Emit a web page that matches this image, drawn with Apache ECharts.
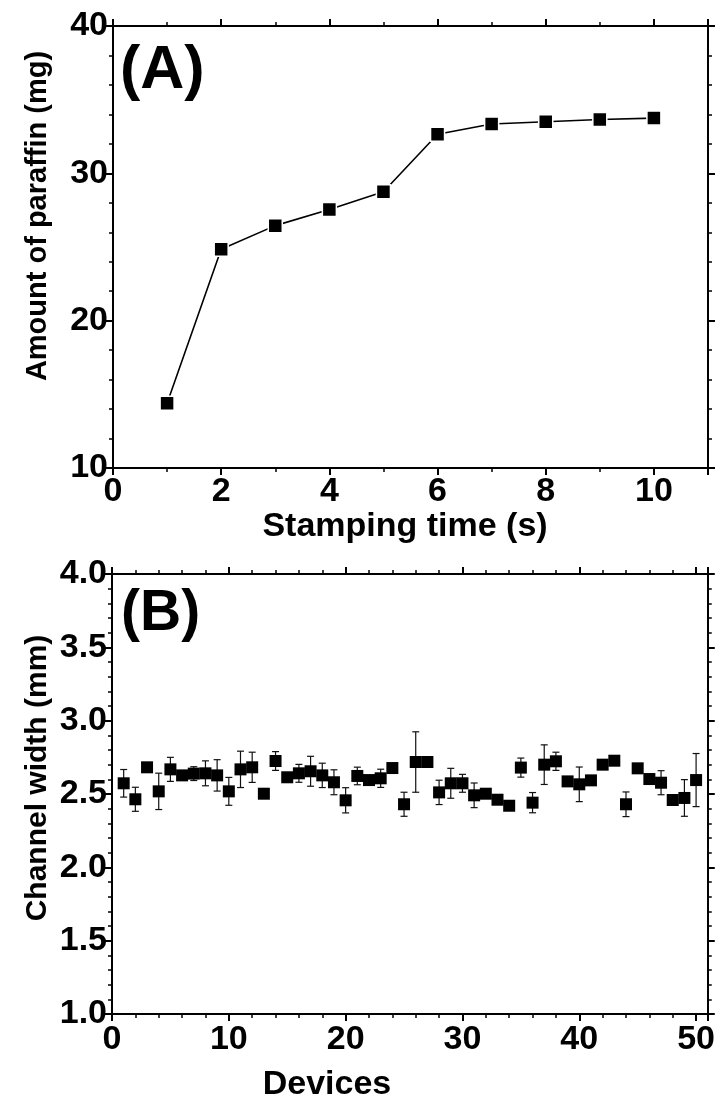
<!DOCTYPE html>
<html>
<head>
<meta charset="utf-8">
<script src="https://cdn.jsdelivr.net/npm/echarts@6/dist/echarts.min.js"></script>
<style>
html,body{margin:0;padding:0;background:#fff;}
#chart{width:718px;height:1108px;}
</style>
</head>
<body>
<div id="chart"></div>
<script>
// Panel A data
const stampingTime = [1, 2, 3, 4, 5, 6, 7, 8, 9, 10];
const paraffinMg = [14.4, 24.85, 26.45, 27.55, 28.75, 32.65, 33.35, 33.5, 33.65, 33.75];

// Panel B data
const devices = [1,2,3,4,5,6,7,8,9,10,11,12,13,14,15,16,17,18,19,20,21,22,23,24,25,26,27,28,29,30,31,32,33,34,35,36,37,38,39,40,41,42,43,44,45,46,47,48,49,50];
const channelWidth = [2.573,2.464,2.682,2.518,2.668,2.627,2.639,2.641,2.627,2.518,
                      2.668,2.682,2.502,2.725,2.614,2.641,2.655,2.627,2.580,2.457,
                      2.623,2.595,2.607,2.677,2.430,2.718,2.718,2.511,2.573,2.573,
                      2.491,2.502,2.461,2.420,2.680,2.441,2.700,2.723,2.586,2.566,
                      2.593,2.700,2.727,2.430,2.675,2.602,2.577,2.459,2.473,2.595];
const widthError = [0.094,0.082,0.02,0.124,0.082,0.02,0.047,0.085,0.107,0.095,
                    0.124,0.103,0.03,0.064,0.01,0.061,0.102,0.083,0.085,0.086,
                    0.060,0.02,0.062,0.02,0.082,0.206,0.02,0.083,0.102,0.061,
                    0.084,0.03,0.02,0.01,0.065,0.069,0.135,0.062,0.02,0.118,
                    0.015,0.02,0.01,0.084,0.01,0.03,0.082,0.01,0.125,0.181];

const FONT = 'Liberation Sans, Arial, Helvetica, sans-serif';
const chart = echarts.init(document.getElementById('chart'), null, {renderer: 'canvas'});

const lineStyle = {color: '#000', width: 2};
const labelStyle = {color: '#000', fontFamily: FONT, fontWeight: 'bold', fontSize: 34};

function xAxisPair(gridIndex, position, min, max, major, minor, showLabels, margin) {
  return [
    {
      type: 'value', gridIndex: gridIndex, position: position, min: min, max: max, interval: major,
      axisLine: {show: true, lineStyle: lineStyle, onZero: false},
      axisTick: {show: true, inside: false, length: 7, lineStyle: {color: '#000', width: 2}},
      axisLabel: {show: showLabels, margin: margin, ...labelStyle,
        formatter: function (v) { return (v % major === 0) ? String(v) : ''; }},
      splitLine: {show: false}
    },
    {
      type: 'value', gridIndex: gridIndex, position: position, min: min, max: max, interval: minor,
      axisLine: {show: false, onZero: false},
      axisTick: {show: true, inside: false, length: 4, lineStyle: {color: '#000', width: 1.5}},
      axisLabel: {show: false},
      splitLine: {show: false}
    }
  ];
}

function yAxisDef(gridIndex, position, min, max, interval, showLabels, digits) {
  return {
    type: 'value', gridIndex: gridIndex, position: position, min: min, max: max, interval: interval,
    axisLine: {show: true, lineStyle: lineStyle, onZero: false},
    axisTick: {show: true, inside: false, length: 7, lineStyle: {color: '#000', width: 2}},
    minorTick: {show: true, splitNumber: 5, length: 4, lineStyle: {color: '#000', width: 1.5}},
    axisLabel: {show: showLabels, margin: 5, ...labelStyle,
      formatter: function (v) { return v.toFixed(digits); }},
    splitLine: {show: false},
    minorSplitLine: {show: false}
  };
}

const xAxes = [].concat(
  xAxisPair(0, 'bottom', 0, 11, 2, 1, true, 7),
  xAxisPair(0, 'top', 0, 11, 2, 1, false, 8),
  xAxisPair(1, 'bottom', 0, 51, 10, 2, true, 9),
  xAxisPair(1, 'top', 0, 51, 10, 2, false, 10)
);

const yAxes = [
  yAxisDef(0, 'left', 10, 40, 10, true, 0),
  yAxisDef(0, 'right', 10, 40, 10, false, 0),
  yAxisDef(1, 'left', 1.0, 4.0, 0.5, true, 1),
  yAxisDef(1, 'right', 1.0, 4.0, 0.5, false, 1)
];

const errData = devices.map(function (d, i) {
  return [d, channelWidth[i] - widthError[i], channelWidth[i] + widthError[i]];
});

function renderErr(params, api) {
  const x = api.value(0);
  const pLo = api.coord([x, api.value(1)]);
  const pHi = api.coord([x, api.value(2)]);
  const hw = 3.5;
  const st = {stroke: '#111', lineWidth: 1.2};
  return {
    type: 'group',
    children: [
      {type: 'line', shape: {x1: pHi[0], y1: pHi[1], x2: pLo[0], y2: pLo[1]}, style: st},
      {type: 'line', shape: {x1: pHi[0] - hw, y1: pHi[1], x2: pHi[0] + hw, y2: pHi[1]}, style: st},
      {type: 'line', shape: {x1: pLo[0] - hw, y1: pLo[1], x2: pLo[0] + hw, y2: pLo[1]}, style: st}
    ]
  };
}

const titleFont = {fill: '#000', fontFamily: FONT, fontWeight: 'bold'};

const option = {
  backgroundColor: '#fff',
  animation: false,
  grid: [
    {left: 113, right: 10, top: 26, height: 442},
    {left: 112, right: 10, top: 574, height: 440}
  ],
  xAxis: xAxes,
  yAxis: yAxes,
  series: [
    {
      type: 'line', xAxisIndex: 0, yAxisIndex: 0,
      data: stampingTime.map(function (t, i) { return [t, paraffinMg[i]]; }),
      symbol: 'rect', symbolSize: 14, showSymbol: true,
      itemStyle: {color: '#000', borderColor: '#fff', borderWidth: 1.5, opacity: 1},
      lineStyle: {color: '#000', width: 1.6}
    },
    {
      type: 'custom', xAxisIndex: 4, yAxisIndex: 2,
      data: errData, renderItem: renderErr,
      encode: {x: 0, y: [1, 2]}, z: 2
    },
    {
      type: 'scatter', xAxisIndex: 4, yAxisIndex: 2,
      data: devices.map(function (d, i) { return [d, channelWidth[i]]; }),
      symbol: 'rect', symbolSize: 12,
      itemStyle: {color: '#000', opacity: 1}, z: 3
    }
  ],
  graphic: [
    {type: 'text', left: 120, top: 41, style: Object.assign({text: '(A)', fontSize: 61}, titleFont)},
    {type: 'text', left: 121, top: 586, style: Object.assign({text: '(B)', fontSize: 57}, titleFont)},
    {type: 'text', x: 405, y: 527, style: Object.assign({text: 'Stamping time (s)', fontSize: 34, align: 'center', verticalAlign: 'middle'}, titleFont)},
    {type: 'text', x: 327, y: 1085, style: Object.assign({text: 'Devices', fontSize: 34, align: 'center', verticalAlign: 'middle'}, titleFont)},
    {type: 'text', x: 38, y: 216, rotation: Math.PI / 2, style: Object.assign({text: 'Amount of paraffin (mg)', fontSize: 29, align: 'center', verticalAlign: 'middle'}, titleFont)},
    {type: 'text', x: 38, y: 778, rotation: Math.PI / 2, style: Object.assign({text: 'Channel width (mm)', fontSize: 30, align: 'center', verticalAlign: 'middle'}, titleFont)}
  ]
};

chart.setOption(option);
</script>
</body>
</html>
